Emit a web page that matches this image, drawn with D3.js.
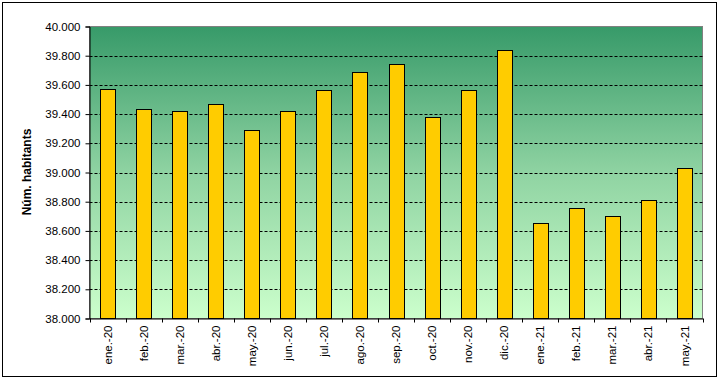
<!DOCTYPE html>
<html><head><meta charset="utf-8">
<script src="https://cdn.jsdelivr.net/npm/d3@7"></script>
<style>body{margin:0;background:#fff}svg{display:block}</style>
</head><body>
<script>
const categories = ["ene.-20","feb.-20","mar.-20","abr.-20","may.-20","jun.-20","jul.-20","ago.-20","sep.-20","oct.-20","nov.-20","dic.-20","ene.-21","feb.-21","mar.-21","abr.-21","may.-21"];
const values = [39570,39432,39418,39466,39288,39418,39562,39685,39740,39377,39562,39842,38652,38754,38700,38809,39028];
const yTicks = [38000,38200,38400,38600,38800,39000,39200,39400,39600,39800,40000];
const yTitle = "Núm. habitants";

const W = 721, H = 381;
const m = {left: 89.5, top: 26.5, right: 702.5, bottom: 318.5};
const svg = d3.select("body").append("svg").attr("width", W).attr("height", H);

// outer chart border
svg.append("rect").attr("x",2.5).attr("y",2.5).attr("width",714).attr("height",374)
  .attr("fill","#fff").attr("stroke","#000").attr("stroke-width",1);

const defs = svg.append("defs");
const g = defs.append("linearGradient").attr("id","bg").attr("x1",0).attr("y1",0).attr("x2",0).attr("y2",1);
g.append("stop").attr("offset","0%").attr("stop-color","#379a69");
g.append("stop").attr("offset","50%").attr("stop-color","#8fd3a2");
g.append("stop").attr("offset","100%").attr("stop-color","#ccffcc");

const x = d3.scaleBand().domain(categories).range([m.left, m.right]).paddingInner(0).paddingOuter(0);
const y = d3.scaleLinear().domain([38000,40000]).range([m.bottom, m.top]);

svg.append("rect").attr("x",m.left).attr("y",m.top).attr("width",m.right-m.left).attr("height",m.bottom-m.top)
  .attr("fill","url(#bg)").attr("stroke","#808080").attr("stroke-width",1);

// gridlines
svg.append("g").selectAll("line").data(yTicks.filter(d=>d>38000 && d<40000)).join("line")
  .attr("x1",m.left).attr("x2",m.right)
  .attr("y1",d=>Math.round(y(d))+0.5).attr("y2",d=>Math.round(y(d))+0.5)
  .attr("stroke","#000").attr("stroke-width",1).attr("stroke-dasharray","3,2");

// bars
const bw = 15;
svg.append("g").selectAll("rect").data(values).join("rect")
  .attr("x",(d,i)=>Math.round(x(categories[i]) + x.bandwidth()/2 - bw/2)+0.5)
  .attr("y",d=>Math.round(y(d))+0.5)
  .attr("width",bw)
  .attr("height",d=>m.bottom - Math.round(y(d)) - 0.5)
  .attr("fill","#ffcc00").attr("stroke","#000").attr("stroke-width",1);

// y axis
const yAxis = svg.append("g").attr("transform",`translate(${m.left},0)`)
  .call(d3.axisLeft(y).tickValues(yTicks).tickSize(4).tickPadding(5)
    .tickFormat(d=>d3.format(",.3f")(d/1000).replace(/,/g,"").replace(".",".")));
yAxis.selectAll("text").text(d=>(d/1000).toFixed(3)).attr("font-family","Arial, 'Liberation Sans', sans-serif")
  .attr("font-size",11.5).attr("fill","#000");
yAxis.select(".domain").attr("stroke","#000");
yAxis.selectAll(".tick line").attr("stroke","#000");

// x axis
const xAxis = svg.append("g").attr("transform",`translate(0,${m.bottom})`)
  .call(d3.axisBottom(x).tickSize(0).tickFormat(d=>d));
xAxis.select(".domain").attr("stroke","#000");
xAxis.selectAll("text")
  .attr("font-family","Arial, 'Liberation Sans', sans-serif").attr("font-size",11.5).attr("fill","#000")
  .attr("transform","rotate(-90)").attr("text-anchor","end").attr("x",-7).attr("y",0).attr("dy","0.35em");
// band boundary ticks
svg.append("g").selectAll("line").data(categories.concat(["end"])).join("line")
  .attr("x1",(d,i)=>Math.round(m.left + i*x.bandwidth())+0.5)
  .attr("x2",(d,i)=>Math.round(m.left + i*x.bandwidth())+0.5)
  .attr("y1",m.bottom).attr("y2",m.bottom+4).attr("stroke","#000");

// y title
svg.append("text").attr("transform","translate(31,172) rotate(-90)").attr("text-anchor","middle")
  .attr("font-family","Arial, 'Liberation Sans', sans-serif").attr("font-size",12).attr("font-weight","bold")
  .text(yTitle);
</script>
</body></html>
